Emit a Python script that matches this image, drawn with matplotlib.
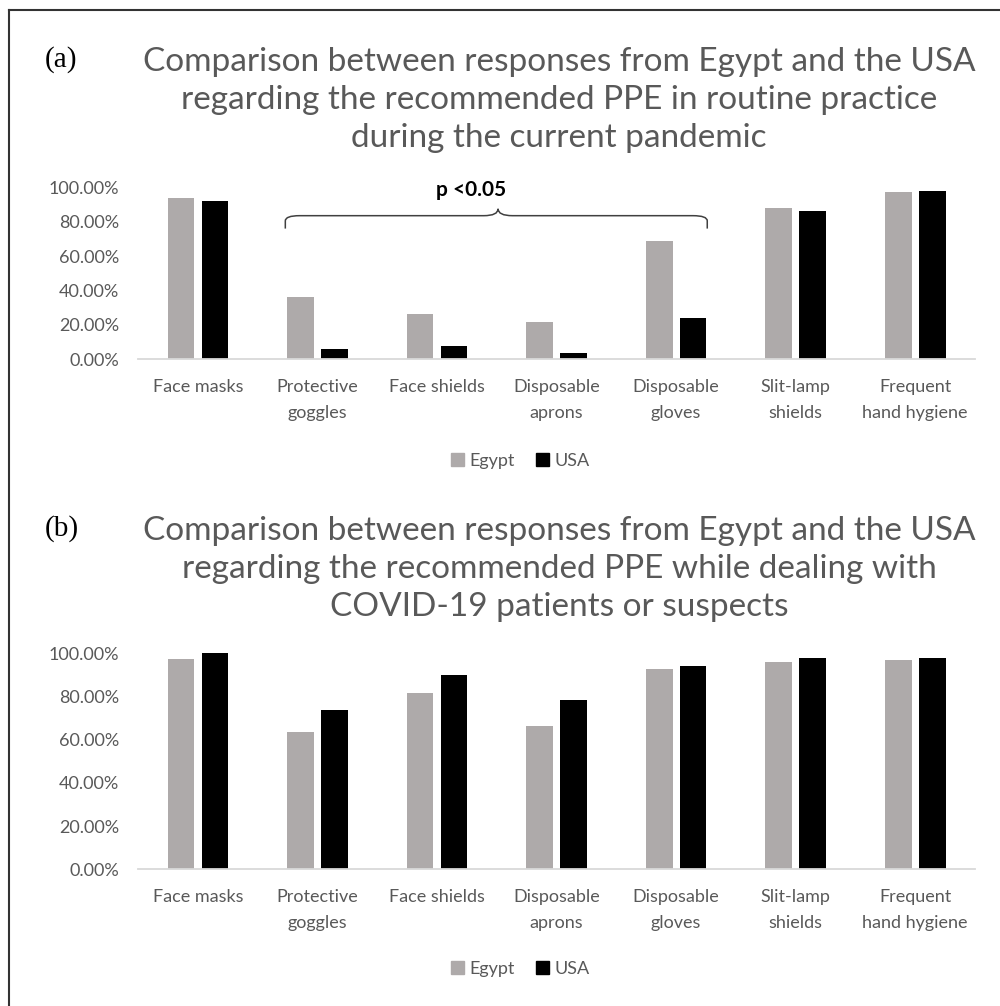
import matplotlib

matplotlib.use("Agg")
import matplotlib.pyplot as plt
import numpy as np
from matplotlib.lines import Line2D
from matplotlib.patches import PathPatch, Patch
from matplotlib.path import Path
from matplotlib.ticker import PercentFormatter

plt.rcParams["font.family"] = ["Lato", "DejaVu Sans"]

# 数据
categories = ["Face masks", "Protective\ngoggles", "Face shields", "Disposable\naprons",
              "Disposable\ngloves", "Slit-lamp\nshields", "Frequent\nhand hygiene"]
egypt_a = [0.935, 0.365, 0.265, 0.215, 0.69, 0.88, 0.97]
usa_a = [0.92, 0.06, 0.077, 0.035, 0.24, 0.86, 0.98]
egypt_b = [0.975, 0.635, 0.814, 0.663, 0.929, 0.958, 0.968]
usa_b = [1.00, 0.738, 0.90, 0.782, 0.942, 0.977, 0.977]

title_a = ("Comparison between responses from Egypt and the USA\n"
           "regarding the recommended PPE in routine practice\n"
           "during the current pandemic")
title_b = ("Comparison between responses from Egypt and the USA\n"
           "regarding the recommended PPE while dealing with\n"
           "COVID-19 patients or suspects")

GRAY = "#AEAAAA"
BLACK = "#000000"
TXT = "#595959"

W, H = 1000, 1006
fig = plt.figure(figsize=(W / 100, H / 100), dpi=100)


def fx(px):
    return px / W


def fy(py):
    return 1 - py / H


def draw_panel(rect, eg, us, title, tag, title_y, legend_y):
    ax = fig.add_axes(rect)
    x = np.arange(len(categories))
    w = 0.223
    off = 0.142
    ax.bar(x - off, eg, w, color=GRAY, label="Egypt")
    ax.bar(x + off, us, w, color=BLACK, label="USA")
    ax.set_xlim(-0.5, len(categories) - 0.5)
    ax.set_ylim(0, 1)
    ax.set_yticks(np.arange(0, 1.01, 0.2))
    ax.yaxis.set_major_formatter(PercentFormatter(1.0, decimals=2))
    ax.set_xticks(x)
    ax.set_xticklabels(categories, linespacing=1.75)
    ax.tick_params(axis="both", length=0, labelsize=13, labelcolor=TXT)
    ax.tick_params(axis="y", pad=14)
    ax.tick_params(axis="x", pad=14.5)
    for s in ["top", "right", "left"]:
        ax.spines[s].set_visible(False)
    ax.spines["bottom"].set_color("#D9D9D9")
    ax.spines["bottom"].set_linewidth(1.3)

    fig.text(fx(559), fy(title_y), title, ha="center", va="center", fontsize=24,
             color=TXT, linespacing=1.32)
    fig.text(fx(45), fy(title_y - 40), tag, ha="left", va="center", fontsize=21,
             family="Liberation Serif", color="black")

    handles = [Patch(color=GRAY, label="Egypt"), Patch(color=BLACK, label="USA")]
    fig.legend(handles=handles, loc="center", bbox_to_anchor=(fx(520), fy(legend_y)),
               ncol=2, frameon=False, fontsize=13, labelcolor=TXT,
               handlelength=0.7, handleheight=0.7, handletextpad=0.3,
               columnspacing=1.2)
    return ax


ax_a = draw_panel([fx(138.3), fy(359.3), fx(836.7), 172 / H], egypt_a, usa_a,
                  title_a, "(a)", 100, 461)
ax_b = draw_panel([fx(138.3), fy(869.3), fx(836.7), 216 / H], egypt_b, usa_b,
                  title_b, "(b)", 569, 969)

# p <0.05 花括号（数据坐标）
bx0, bx1, btip = 0.73, 4.26, 2.51
by_end, by_mid, by_tip = 0.76, 0.835, 0.875
r = 0.12
verts = [
    (bx0, by_end), (bx0, by_mid - 0.03), (bx0, by_mid), (bx0 + r, by_mid),
    (btip - r, by_mid), (btip, by_mid), (btip, by_tip),
    (btip, by_mid), (btip + r, by_mid),
    (bx1 - r, by_mid), (bx1, by_mid), (bx1, by_mid - 0.03), (bx1, by_end),
]
codes = [Path.MOVETO, Path.LINETO, Path.CURVE3, Path.CURVE3,
         Path.LINETO, Path.CURVE3, Path.CURVE3,
         Path.CURVE3, Path.CURVE3,
         Path.LINETO, Path.CURVE3, Path.CURVE3, Path.LINETO]
ax_a.add_patch(PathPatch(Path(verts, codes), fill=False, edgecolor="#404040", lw=1.1,
                         clip_on=False))
ax_a.text(2.28, 0.985, "p <0.05", ha="center", va="center", fontsize=15,
          fontweight="bold", color="black")

# 外框（只露出左边和上边）
fig.add_artist(Line2D([fx(9), fx(9)], [0, fy(10)], color="#333333", lw=1.5))
fig.add_artist(Line2D([fx(9), 1], [fy(10), fy(10)], color="#333333", lw=1.5))

fig.savefig("out.png", dpi=100, facecolor="white")
